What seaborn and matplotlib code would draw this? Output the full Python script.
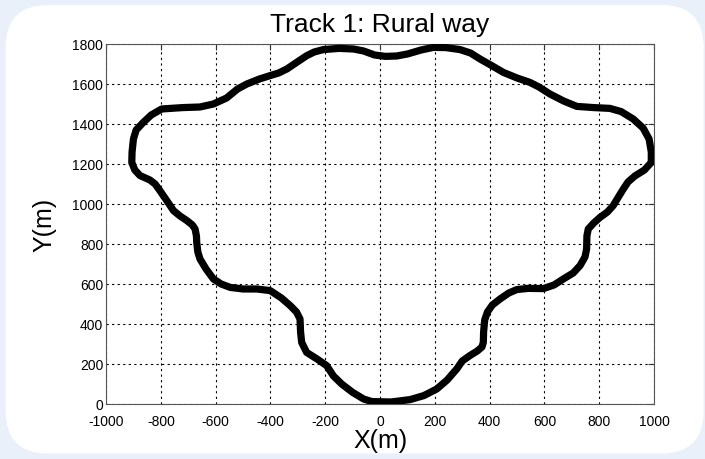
import matplotlib
matplotlib.use('Agg')
import matplotlib.pyplot as plt
import seaborn as sns
import pandas as pd
from matplotlib.patches import FancyBboxPatch

# ── Track outline (clockwise from the bottom) ────────────────────────────────
track_x = [-30, 40, 110, 160, 207, 245, 280, 300, 328, 355, 372, 377, 378, 382,
           392, 410, 438, 470, 499, 540, 596, 635, 669, 705, 730, 748, 754, 755,
           760, 780, 803, 830, 851, 870, 888, 905, 930, 965, 990, 990, 982, 960,
           924, 880, 839, 780, 718, 670, 620, 580, 547, 500, 450, 410, 365, 330,
           292, 240, 195, 150, 100, 61, 20, -20, -60, -97, -150, -207, -240,
           -267, -300, -340, -370, -401, -440, -486, -520, -560, -608, -657,
           -720, -797, -835, -864, -890, -900, -905, -906, -895, -876, -840,
           -821, -805, -791, -770, -754, -730, -705, -685, -675, -670, -669,
           -665, -657, -635, -608, -580, -547, -500, -450, -401, -360, -328,
           -305, -292, -290, -286, -268, -230, -195, -170, -140, -100, -60, -30]
track_y = [12, 10, 22, 42, 75, 120, 175, 215, 242, 265, 285, 308, 360, 420,
           460, 495, 525, 555, 572, 578, 577, 595, 625, 655, 692, 735, 775, 840,
           875, 905, 933, 960, 992, 1035, 1075, 1110, 1140, 1170, 1208, 1260,
           1325, 1380, 1425, 1462, 1478, 1482, 1488, 1515, 1550, 1585, 1608,
           1630, 1658, 1690, 1725, 1755, 1772, 1782, 1783, 1770, 1750, 1740,
           1738, 1745, 1765, 1775, 1778, 1772, 1760, 1742, 1712, 1675, 1655,
           1642, 1625, 1600, 1575, 1530, 1500, 1485, 1482, 1475, 1445, 1408,
           1370, 1325, 1260, 1208, 1170, 1142, 1120, 1100, 1070, 1042, 1000,
           967, 940, 917, 895, 875, 840, 808, 760, 725, 675, 625, 600, 583,
           575, 575, 567, 530, 492, 460, 425, 360, 308, 258, 225, 192, 140,
           100, 58, 25, 12]

x_ticks = list(range(-1000, 1001, 200))
y_ticks = list(range(0, 1801, 200))

sns.set_style('white')
plt.rcParams['font.family'] = ['Liberation Sans', 'DejaVu Sans']
plt.rcParams['axes.unicode_minus'] = False   # MATLAB-style hyphen minus
plt.rcParams['text.color'] = 'black'
plt.rcParams['axes.labelcolor'] = 'black'

fig = plt.figure(figsize=(7.05, 4.60), dpi=100)
fig.patch.set_facecolor('#eaf0fa')
# rounded white card behind the plot
panel = FancyBboxPatch((0.008, 0.012), 0.99, 0.975,
                       boxstyle='round,pad=0,rounding_size=0.06',
                       transform=fig.transFigure, facecolor='white',
                       edgecolor='none', mutation_aspect=705 / 460, zorder=-10)
fig.patches.append(panel)

ax = fig.add_axes([0.1504, 0.1196, 0.7773, 0.7826])
ax.set_zorder(5)
df = pd.DataFrame({'x': track_x, 'y': track_y})
sns.lineplot(data=df, x='x', y='y', sort=False, estimator=None,
             color='black', linewidth=5.2, ax=ax, zorder=3)

ax.set_xlim(-1000, 1000)
ax.set_ylim(0, 1800)
ax.set_xticks(x_ticks)
ax.set_yticks(y_ticks)
ax.grid(True, color='black', linestyle=(0, (2, 3)), linewidth=0.8)
ax.tick_params(direction='in', length=4, width=0.8, labelsize=10,
               colors='#333333', labelcolor='black', pad=2,
               top=True, right=True)
ax.tick_params(axis='x', pad=7)
for s in ax.spines.values():
    s.set_color('#555555')
    s.set_linewidth(0.8)

ax.set_title('Track 1: Rural way', fontsize=19, pad=9)
ax.set_xlabel('X(m)', fontsize=18, labelpad=0)
ax.set_ylabel('Y(m)', fontsize=18, labelpad=11)

fig.savefig('out.png', dpi=100, facecolor=fig.get_facecolor())
